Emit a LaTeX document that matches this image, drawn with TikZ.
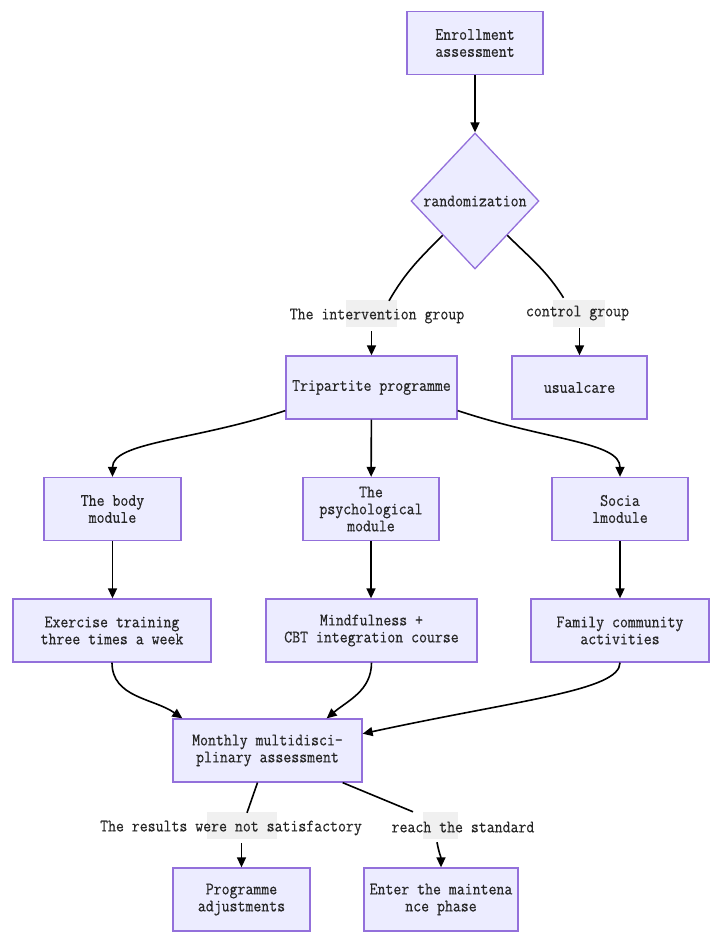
\documentclass[tikz,border=0pt]{standalone}
\usepackage{fontspec}
\newfontfamily\diagfont[FakeStretch=0.88,FakeBold=0.4]{Latin Modern Mono}
\newcommand{\flowfont}{\diagfont\fontsize{17.5}{17}\selectfont}
\usetikzlibrary{shapes.geometric,arrows.meta}
\definecolor{boxfill}{HTML}{ECECFF}
\definecolor{boxline}{HTML}{9370DB}
\definecolor{labpatch}{HTML}{F0F0F0}
\tikzset{
  procbox/.style={draw=boxline, fill=boxfill, line width=1.3pt, align=center,
    inner sep=0pt, minimum height=63pt, font=\flowfont, text=black!85},
  decision/.style={diamond, draw=boxline, fill=boxfill, line width=1.3pt,
    inner sep=0pt, minimum width=128pt, minimum height=136pt, font=\flowfont, text=black!85},
  edgelab/.style={font=\flowfont, inner xsep=2pt, inner ysep=0pt, minimum height=30pt, text=black!85},
  arr/.style={-{Triangle[length=10pt,width=9pt]}, line width=1.6pt},
  link/.style={line width=1.6pt}
}
\begin{document}
\begin{tikzpicture}[x=1pt, y=1pt]
  \useasboundingbox (0,0) rectangle (720,-939);

  % grey patches behind the edge labels
  \fill[labpatch] (346,-300) rectangle (397,-327);
  \fill[labpatch] (553,-300) rectangle (605,-327);
  \fill[labpatch] (207,-812) rectangle (277,-839);
  \fill[labpatch] (423,-812) rectangle (458,-839);

  % top: enrollment and randomization
  \node[procbox, minimum width=136pt] (enroll) at (475,-43) {Enrollment\\assessment};
  \node[decision] (rand) at (475,-201) {randomization};
  \node[edgelab] (labint) at (377,-316) {The intervention group};
  \node[edgelab] (labctl) at (577.5,-313) {control group};
  \node[procbox, minimum width=171pt] (tri) at (371.5,-387.5) {Tripartite programme};
  \node[procbox, minimum width=135pt] (usual) at (579.5,-387.5) {usualcare};

  % the three modules
  \node[procbox, minimum width=137pt] (body) at (112.5,-509) {The body\\module};
  \node[procbox, minimum width=136pt] (psych) at (371,-509) {The\\psychological\\module};
  \node[procbox, minimum width=136pt] (social) at (620,-509) {Socia\\lmodule};
  \node[procbox, minimum width=198pt] (exer) at (112,-630.5) {Exercise training\\three times a week};
  \node[procbox, minimum width=211pt] (mind) at (371.5,-630.5) {Mindfulness +\\CBT integration course};
  \node[procbox, minimum width=178pt] (family) at (620,-630.5) {Family community\\activities};

  % assessment and outcome
  \node[procbox, minimum width=189pt] (monthly) at (267.5,-750.5) {Monthly multidisci-\\plinary assessment};
  \node[edgelab] (labbad) at (231,-828) {The results were not satisfactory};
  \node[edgelab] (labok) at (463,-827) {reach the standard};
  \node[procbox, minimum width=137pt] (adj) at (241.5,-899.5) {Programme\\adjustments};
  \node[procbox, minimum width=154pt] (maint) at (441,-899.5) {Enter the maintena\\nce phase};

  \draw[arr] (enroll) -- (rand);
  \draw[link] (rand.south west) to[out=-135,in=60] ([xshift=12pt]labint.north);
  \draw[arr] (labint.south -| tri) -- (tri);
  \draw[link] (rand.south east) to[out=-45,in=122] ([xshift=-14pt]labctl.north);
  \draw[arr] (labctl.south -| usual) -- (usual);

  \draw[arr] (tri.195) .. controls +(-90,-30) and +(0,35) .. (body.north);
  \draw[arr] (tri) -- (psych);
  \draw[arr] (tri.-15) .. controls +(90,-30) and +(0,35) .. (social.north);
  \draw[arr] (body) -- (body |- exer.north);
  \draw[arr] (psych) -- (psych |- mind.north);
  \draw[arr] (social) -- (social |- family.north);

  \draw[arr] (exer) to[out=-90,in=145] ([xshift=10pt]monthly.north west);
  \draw[arr] (mind) to[out=-90,in=40] ([xshift=-36pt]monthly.north east);
  \draw[arr] (family.south) .. controls +(0,-28) and +(157,34) .. (monthly.10);

  \draw[link] ([xshift=-10pt]monthly.south) -- ([xshift=16pt]labbad.north);
  \draw[arr] (labbad.south -| adj) -- (adj);
  \draw[link] ([xshift=-20pt]monthly.south east) -- ([xshift=-50pt]labok.north);
  \draw[arr] ([xshift=-26pt]labok.south) to[out=-80,in=90] (maint);
\end{tikzpicture}
\end{document}
